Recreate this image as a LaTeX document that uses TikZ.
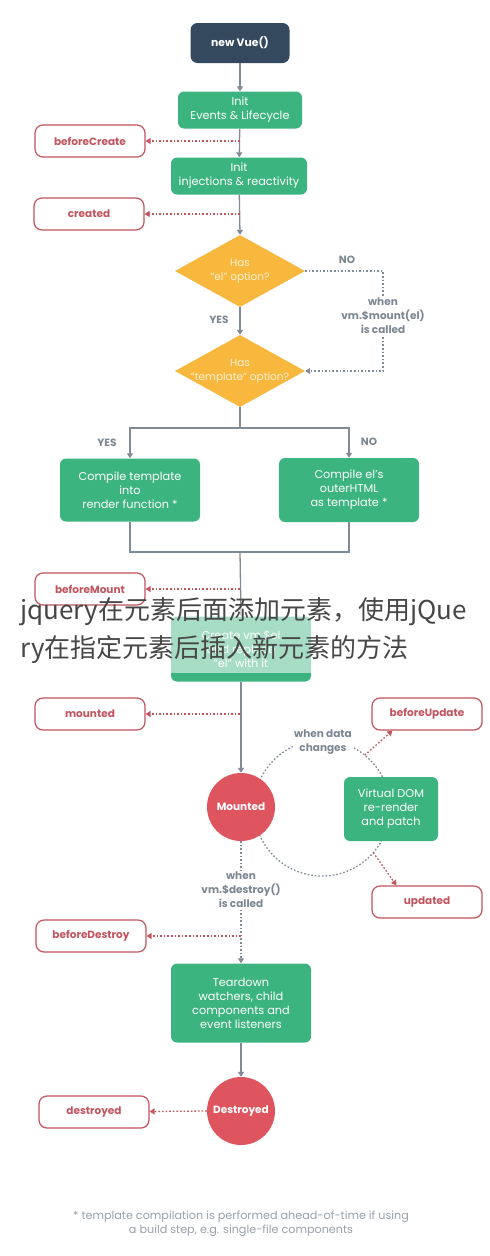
\documentclass[tikz,border=0pt]{standalone}
\usepackage{fontspec}
\setmainfont{Poppins}
\newfontfamily\cjk{Noto Sans CJK SC}
\usetikzlibrary{shapes.geometric,arrows.meta}
\definecolor{navy}{HTML}{35495E}
\definecolor{vgreen}{HTML}{3CB47F}
\definecolor{vorange}{HTML}{F8B83E}
\definecolor{vred}{HTML}{DE5560}
\definecolor{hook}{HTML}{C2545E}
\definecolor{lgray}{HTML}{808B96}
\definecolor{lbl}{HTML}{7C8792}
\definecolor{foot}{HTML}{9AA1A8}
\definecolor{dtxt}{HTML}{FFF1D6}
\tikzset{
  tip/.style={-{Triangle[length=5pt,width=6pt]}},
  flow/.style={draw=lgray, line width=1.3pt},
  graydot/.style={draw=lgray, line width=1.3pt, dash pattern=on 1.6pt off 2pt},
  hookline/.style={draw=hook, line width=1.3pt, dash pattern=on 1.6pt off 2pt, tip},
  hookbox/.style={draw=hook, line width=1.2pt, rounded corners=8pt, fill=white,
    minimum width=110pt, minimum height=32pt, inner sep=0pt, text=hook,
    font=\bfseries\fontsize{10.5}{12}\selectfont},
  greenbox/.style={fill=vgreen, rounded corners=6pt, text=white, align=center,
    inner sep=0pt, font=\fontsize{11.3}{14}\selectfont},
  decision/.style={diamond, fill=vorange, minimum width=130pt, minimum height=72pt, inner sep=0pt},
  dtext/.style={text=dtxt, align=center, font=\fontsize{10.5}{14}\selectfont},
  state/.style={circle, fill=vred, minimum size=68pt, inner sep=0pt, text=white,
    font=\bfseries\fontsize{10.5}{12}\selectfont},
  glabel/.style={text=lbl, align=center, font=\bfseries\fontsize{10.5}{14}\selectfont},
  wlabel/.style={glabel, fill=white, inner sep=1pt},
}
\begin{document}
\begin{tikzpicture}[x=1pt,y=-1pt]
\useasboundingbox[fill=white] (0,0) rectangle (490,1256);

% nodes
\node[fill=navy, rounded corners=7pt, minimum width=99pt, minimum height=40pt, inner sep=0pt,
  text=white, font=\bfseries\fontsize{10.8}{14}\selectfont] (vue) at (240,43) {new Vue()};
\node[greenbox, minimum width=124pt, minimum height=37pt] (init1) at (240,110) {Init\\Events \& Lifecycle};
\node[hookbox] (bc) at (90,141) {beforeCreate};
\node[greenbox, minimum width=136pt, minimum height=37pt] (init2) at (239,176) {Init\\injections \& reactivity};
\node[hookbox] (cr) at (89,214) {created};
\node[decision] (d1) at (240,271) {};
\node[dtext] (d1t) at (240,271) {Has\\``el'' option?};
\node[decision] (d2) at (240,371) {};
\node[dtext] (d2t) at (240,371) {Has\\``template'' option?};
\node[greenbox, minimum width=140pt, minimum height=63pt] (ct) at (130,490) {Compile template\\into\\render function *};
\node[greenbox, minimum width=140pt, minimum height=64pt] (ce) at (349,490) {Compile el's\\outerHTML\\as template *};
\node[hookbox] (bm) at (90,589) {beforeMount};
\node[greenbox, minimum width=140pt, minimum height=65pt] (create) at (241,649) {Create vm.\$el\\and replace\\``el'' with it};
\node[hookbox] (mt) at (90,714) {mounted};
\node[hookbox] (bu) at (427,714) {beforeUpdate};
\node[hookbox] (up) at (427,902) {updated};
\node[hookbox] (bd) at (91,936) {beforeDestroy};
\node[greenbox, minimum width=140pt, minimum height=79pt] (td) at (241,1003) {Teardown\\watchers, child\\components and\\event listeners};
\node[hookbox] (ds) at (94,1112) {destroyed};

% coordinates on main line
\coordinate (c1) at (240,141);
\coordinate (c2) at (240,214);
\coordinate (nocorner) at (383,271);
\coordinate (split) at (240,428);
\coordinate (merge) at (240,552);
\coordinate (c3) at (240,589);
\coordinate (c4) at (240,714);
\coordinate (c5) at (241,936);
\coordinate (cu1) at (364.8,755.2);
\coordinate (cu2) at (373.3,852.6);

% connectors
\draw[flow,tip] (vue) -- (init1);
\draw[flow,tip] (init1) -- (init2);
\draw[hookline] (c1) -- (bc);
\draw[flow,tip] (init2) -- (d1.north);
\draw[hookline] (c2) -- (cr);
\draw[flow,tip] (d1.south) -- (d2.north);
\draw[graydot,tip] (d1.east) -- (nocorner) |- (d2.east);
\draw[flow] (d2.south) -- (split);
\draw[flow,tip] (split) -| (ct.north);
\draw[flow,tip] (split) -| (ce.north);
\draw[flow] (ct.south) |- (merge);
\draw[flow] (ce.south) |- (merge);
\draw[flow,tip] (merge) -- (create.north);
\draw[hookline] (c3) -- (bm);

% update cycle
\draw[graydot] (322,808) circle[radius=68pt];
\node[state] (mo) at (241,807) {Mounted};
\node[greenbox, minimum width=94pt, minimum height=64pt] (vd) at (391,809) {Virtual DOM\\re-render\\and patch};
\draw[flow,tip] (create.south) -- (mo.north);
\draw[hookline] (c4) -- (mt);
\draw[hookline] (cu1) -- ([xshift=21pt]bu.south west);
\draw[hookline] (cu2) -- ([xshift=25pt]up.north west);
\node[wlabel] (wdc) at (323,742) {when data\\changes};

% destroy
\draw[graydot,tip] (mo.south) -- (td.north);
\node[wlabel] (wdes) at (241,890) {when\\vm.\$destroy()\\is called};
\draw[hookline] (c5) -- (bd);
\node[state] (dd) at (241,1111) {Destroyed};
\draw[flow,tip] (td.south) -- (dd.north);
\draw[hookline] (dd.west) -- (ds);

% labels
\node[glabel] (no1) at (347,260) {NO};
\node[wlabel] (wmount) at (383,316) {when\\vm.\$mount(el)\\is called};
\node[glabel] (yes1) at (219,320) {YES};
\node[glabel] (yes2) at (107,443) {YES};
\node[glabel] (no2) at (369,442) {NO};

% footnote
\node[text=foot, align=center, font=\fontsize{11.2}{14}\selectfont] (fn) at (241,1224)
  {* template compilation is performed ahead-of-time if using\\a build step, e.g. single-file components};

% overlay title
\fill[white, opacity=0.55] (0,606) rectangle (490,673);
\node[anchor=north west, inner sep=0pt, align=left, text=black!72,
  font=\cjk\fontsize{26}{38}\selectfont] (title) at (20,597)
  {jquery在元素后面添加元素，使用jQue\\ry在指定元素后插入新元素的方法};
\end{tikzpicture}
\end{document}
